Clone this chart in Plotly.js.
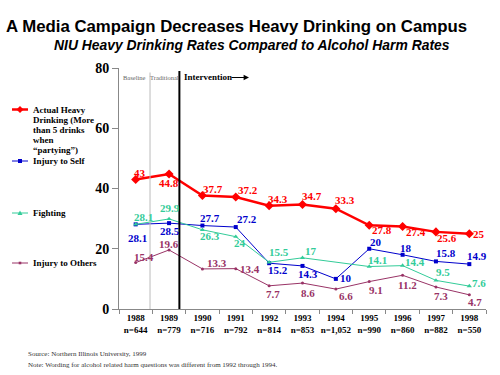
<!DOCTYPE html>
<html>
<head>
<meta charset="utf-8">
<script src="https://cdn.plot.ly/plotly-3.0.1.min.js"></script>
<style>html,body{margin:0;padding:0;background:#fff;}#chart{width:500px;height:375px;}</style>
</head>
<body>
<div id="chart"></div>
<script>
// ---- data ----
var years = ["1988","1989","1990","1991","1992","1993","1994","1995","1996","1997","1998"];
var sampleSizes = ["n=644","n=779","n=716","n=792","n=814","n=853","n=1,052","n=990","n=860","n=882","n=550"];
var heavyDrinking = [43, 44.8, 37.7, 37.2, 34.3, 34.7, 33.3, 27.8, 27.4, 25.6, 25];
var injurySelf = [28.1, 28.5, 27.7, 27.2, 15.2, 14.3, 10, 20, 18, 15.8, 14.9];
var fighting = [28.1, 29.9, 26.3, 24, 15.5, 17, null, 14.1, 14.4, 9.5, 7.6];
var injuryOthers = [15.4, 19.6, 13.3, 13.4, 7.7, 8.6, 6.6, 9.1, 11.2, 7.3, 4.7];
var tickLabels = years.map(function(y, i){ return y + "<br>" + sampleSizes[i]; });

// ---- label placement (pixel offsets from each point: [dx, dy], dy downward) ----
var offHeavy  = [[4,-6],[0,9],[11,-6],[12,-7],[9,-7],[9,-8],[9,-9],[13,4.5],[13,5.5],[11,6.5],[10,0]];
var offSelf   = [[2,14],[1,8],[8,-8],[11,-8.5],[9,7],[5.5,8.5],[10,-1],[7,-6.5],[3.5,-7],[10,-8.5],[8,-8.5]];
var offFight  = [[8,-7],[1,-11],[8,6.5],[4,6],[10,-10],[8,-7],[0,0],[8,-6.5],[12,-4],[7,-8],[10,-3.5]];
var offOthers = [[8,-6],[0,-6],[15,-6],[14,0.5],[3.5,8],[5.5,10],[10,7],[7,8],[4.5,10],[5,8.5],[6,7.5]];

// ---- layout geometry ----
var L = 119, R = 14, T = 68, B = 66, W = 500, H = 375;
var pw = W - L - R, ph = H - T - B;
function px(x){ return (x - L) / pw; }
function py(y){ return (H - B - y) / ph; }

var serif = "Liberation Serif, Times New Roman, serif";
var sans = "Liberation Sans, Arial, sans-serif";
var cRed = "#ff0000", cBlue = "#0000cc", cGreen = "#33cc99", cPurple = "#993366";

var series = [
  {name: "Actual Heavy Drinking", y: heavyDrinking, off: offHeavy, color: cRed, width: 2.5, symbol: "diamond", size: 7},
  {name: "Injury to Self", y: injurySelf, off: offSelf, color: cBlue, width: 1, symbol: "square", size: 4},
  {name: "Fighting", y: fighting, off: offFight, color: cGreen, width: 1, symbol: "triangle-up", size: 4.5},
  {name: "Injury to Others", y: injuryOthers, off: offOthers, color: cPurple, width: 1, symbol: "circle", size: 3}
];

var traces = series.map(function(s){
  return {x: years, y: s.y, name: s.name, mode: "lines+markers", connectgaps: true,
    line: {color: s.color, width: s.width}, marker: {symbol: s.symbol, size: s.size, color: s.color},
    showlegend: false, cliponaxis: false, hoverinfo: "skip"};
});

var annotations = [];
series.forEach(function(s){
  s.y.forEach(function(v, i){
    if (v === null) return;
    // category axis: position by category index
    annotations.push({text: "<b>" + v + "</b>", xref: "x", yref: "y", x: years.indexOf(years[i]), y: v,
      xshift: s.off[i][0], yshift: -s.off[i][1], showarrow: false, xanchor: "center", yanchor: "middle",
      borderpad: 0, font: {family: serif, size: 11, color: s.color}});
  });
});

var shapes = [
  {type: "line", xref: "x", yref: "y", x0: 0.43, x1: 0.43, y0: 0, y1: 78.5, line: {color: "#bbbbbb", width: 1}},
  {type: "line", xref: "x", yref: "y", x0: 1.31, x1: 1.31, y0: 0, y1: 79, line: {color: "#000000", width: 2}}
];

annotations = annotations.concat([
  {text: "<i><b>NIU Heavy Drinking Rates Compared to Alcohol Harm Rates</b></i>", xref: "paper", yref: "paper",
   x: px(52), y: py(45), xanchor: "left", yanchor: "middle", showarrow: false,
   font: {family: sans, size: 13.9, color: "#000"}},
  {text: "Baseline", xref: "x", yref: "y", x: -0.05, y: 77, showarrow: false, xanchor: "center", yanchor: "middle",
   font: {family: serif, size: 6.5, color: "#666"}},
  {text: "Traditional", xref: "x", yref: "y", x: 0.87, y: 77, showarrow: false, xanchor: "center", yanchor: "middle",
   font: {family: serif, size: 6.5, color: "#666"}},
  {text: "<b>Intervention</b>", xref: "x", yref: "y", x: 1.38, y: 77, showarrow: false, xanchor: "left", yanchor: "middle",
   font: {family: serif, size: 9, color: "#000"}},
  {text: "", xref: "paper", yref: "paper", x: px(249), y: py(77.5), ax: -19, ay: 0,
   showarrow: true, arrowhead: 2, arrowsize: 0.9, arrowwidth: 1.2, arrowcolor: "#000"},
  {text: "Source: Northern Illinois University, 1999", xref: "paper", yref: "paper", x: px(26), y: py(354),
   xanchor: "left", yanchor: "middle", showarrow: false, font: {family: serif, size: 7, color: "#333"}},
  {text: "Note: Wording for alcohol related harm questions was different from 1992 through 1994.", xref: "paper", yref: "paper",
   x: px(26), y: py(365), xanchor: "left", yanchor: "middle", showarrow: false, font: {family: serif, size: 7, color: "#333"}}
]);

// custom legend
var legendItems = [
  {lines: ["Actual Heavy", "Drinking (More", "than 5 drinks", "when", "\u201cpartying\u201d)"], y: 109.5, color: cRed, width: 2.5, sym: "diamond"},
  {lines: ["Injury to Self"], y: 161, color: cBlue, width: 1, sym: "square"},
  {lines: ["Fighting"], y: 213, color: cGreen, width: 1, sym: "triangle"},
  {lines: ["Injury to Others"], y: 263, color: cPurple, width: 1, sym: "dot"}
];
legendItems.forEach(function(it){
  shapes.push({type: "line", xref: "paper", yref: "paper", x0: px(12), x1: px(28), y0: py(it.y), y1: py(it.y),
    line: {color: it.color, width: it.width}});
  var path;
  if (it.sym === "diamond") path = "M0,3.5 L3.5,0 L0,-3.5 L-3.5,0 Z";
  else if (it.sym === "square") path = "M-2,-2 L2,-2 L2,2 L-2,2 Z";
  else if (it.sym === "triangle") path = "M-2.5,-2 L2.5,-2 L0,2.5 Z";
  else path = "M-1.3,-1.3 L1.3,-1.3 L1.3,1.3 L-1.3,1.3 Z";
  shapes.push({type: "path", xref: "paper", yref: "paper", xsizemode: "pixel", ysizemode: "pixel",
    xanchor: px(20), yanchor: py(it.y), path: path, fillcolor: it.color, line: {color: it.color, width: 0}});
  it.lines.forEach(function(t, k){
    annotations.push({text: "<b>" + t + "</b>", xref: "paper", yref: "paper", x: px(30.5), y: py(it.y + k * 10),
      xanchor: "left", yanchor: "middle", showarrow: false, font: {family: serif, size: 9, color: "#000"}});
  });
});

var layout = {
  width: W, height: H,
  margin: {l: L, r: R, t: T, b: B, autoexpand: false},
  paper_bgcolor: "#fff", plot_bgcolor: "#fff",
  showlegend: false,
  title: {text: "<b>A Media Campaign Decreases Heavy Drinking on Campus</b>", xref: "container", yref: "container",
    x: 0.012, xanchor: "left", y: 1 - 26 / H, yanchor: "middle", font: {family: sans, size: 16.8, color: "#000"}},
  xaxis: {type: "category", range: [-0.5, 10.5], tickvals: years, ticktext: tickLabels, tickson: "boundaries",
    tickangle: 0, ticks: "outside", ticklen: 4, tickcolor: "#888", showline: true, linecolor: "#888", linewidth: 1,
    showgrid: false, zeroline: false, fixedrange: true,
    tickfont: {family: serif, size: 9, color: "#000", weight: "bold"}},
  yaxis: {range: [0, 80], tickvals: [0, 20, 40, 60, 80], ticks: "outside", ticklen: 6, tickcolor: "#888",
    showline: true, linecolor: "#888", linewidth: 1, showgrid: false, zeroline: false, fixedrange: true,
    tickfont: {family: serif, size: 14, color: "#000", weight: "bold"}},
  shapes: shapes,
  annotations: annotations
};

Plotly.newPlot("chart", traces, layout, {staticPlot: true, displayModeBar: false});
</script>
</body>
</html>
